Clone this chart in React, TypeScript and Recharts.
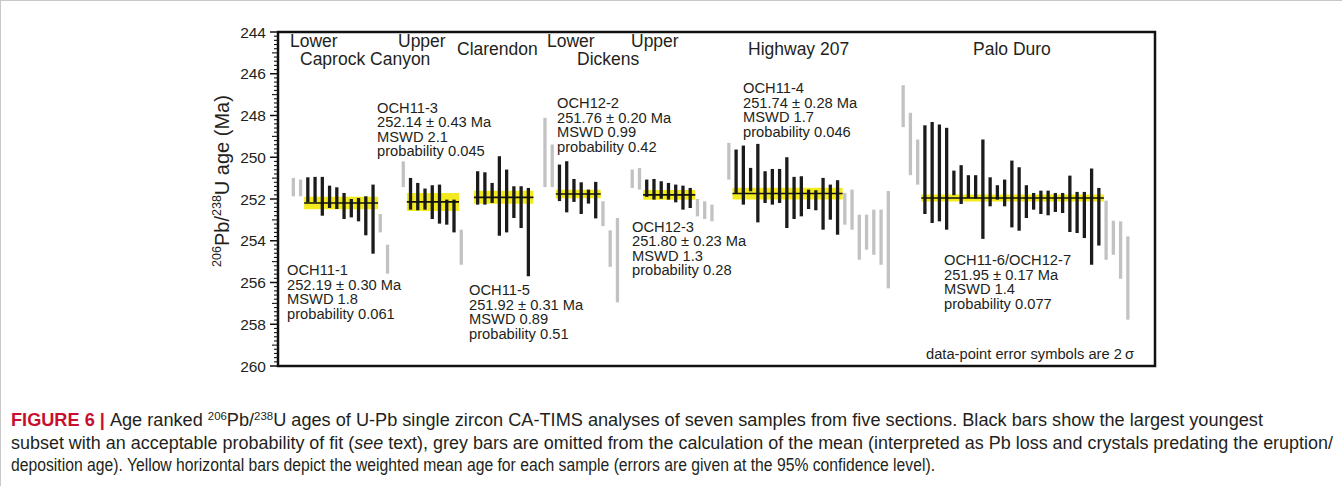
import React from "react";
import {
  ComposedChart, Bar, Cell, XAxis, YAxis, ReferenceArea, ReferenceLine,
} from "recharts";

const FONT = '"Liberation Sans", Arial, Helvetica, sans-serif';
const INK = "#231f20";
const BLACK_BAR = "#1b1b1b";
const GREY_BAR = "#c2c2c2";
const YELLOW = "#f3eb1f";

// 206Pb/238U ages as [young, old] ends of the 2 sigma bar (Ma), age ranked
const OCH11_1_GREY_A = [[250.99, 251.87], [251.07, 251.87]];
const OCH11_1_BLACK = [
  [250.96, 252.16], [250.94, 252.16], [250.94, 252.8], [251.36, 252.43], [251.44, 252.48],
  [251.71, 252.96], [252.0, 252.88], [251.95, 253.07], [251.87, 253.74], [251.31, 254.62],
];
const OCH11_1_GREY_B = [[252.72, 253.6], [254.19, 255.58]];

const OCH11_3_GREY_A = [[250.2, 251.43]];
const OCH11_3_BLACK = [
  [250.99, 252.51], [251.23, 252.54], [251.5, 252.51], [251.34, 252.96], [251.31, 253.18],
  [252.03, 253.23], [252.03, 253.6],
];
const OCH11_3_GREY_B = [[253.47, 255.15]];

const OCH11_5_BLACK = [
  [250.67, 252.27], [250.72, 252.27], [251.23, 252.19], [249.95, 253.76], [250.59, 253.6],
  [251.39, 252.91], [251.39, 253.39], [251.47, 255.7],
];

const OCH12_2_GREY_A = [[248.11, 251.43], [249.39, 251.43]];
const OCH12_2_BLACK = [
  [250.35, 252.1], [250.19, 252.64], [251.04, 252.14], [251.2, 252.72], [251.55, 252.22],
  [251.18, 252.93],
];
const OCH12_2_GREY_B = [[252.11, 253.3], [253.5, 255.25], [252.91, 256.95]];

const OCH12_3_GREY_A = [[250.59, 251.47], [250.51, 251.55]];
const OCH12_3_BLACK = [
  [251.07, 251.9], [251.04, 252.03], [251.15, 251.99], [251.23, 252.03], [251.31, 252.16],
  [251.36, 252.51], [251.47, 252.43],
];
const OCH12_3_GREY_B = [[252.0, 252.83], [252.11, 252.96], [252.27, 253.07]];

const OCH11_4_GREY_A = [[249.31, 251.07]];
const OCH11_4_BLACK = [
  [249.63, 251.71], [249.44, 252.27], [250.51, 251.63], [249.36, 253.12], [250.67, 252.19],
  [250.56, 252.27], [250.56, 252.19], [250.0, 253.39], [250.94, 252.96], [250.91, 252.83],
  [251.55, 252.48], [251.58, 252.54], [250.99, 253.47], [251.31, 252.99], [251.1, 253.71],
];
const OCH11_4_GREY_B = [
  [251.71, 253.23], [251.55, 253.47], [252.75, 254.91], [252.75, 254.43], [252.51, 254.67],
  [252.51, 255.15], [251.62, 256.28],
];

const OCH11_6_GREY_A = [[246.55, 248.56], [247.87, 250.86], [249.15, 251.31]];
const OCH11_6_BLACK = [
  [248.47, 252.72], [248.31, 253.15], [248.43, 253.07], [248.59, 253.47], [250.64, 251.82],
  [250.38, 252.24], [250.86, 251.95], [250.86, 251.98], [249.15, 253.91], [250.96, 252.35],
  [251.34, 252.03], [251.07, 252.35], [250.16, 253.36], [250.48, 253.52], [251.34, 252.91],
  [251.71, 252.51], [251.6, 252.72], [251.6, 252.78], [251.71, 252.62], [251.71, 252.67],
  [250.88, 253.58], [251.66, 253.63], [251.66, 253.87], [250.54, 255.15], [251.47, 254.23],
];
const OCH11_6_GREY_B = [[252.08, 254.91], [253.04, 254.67], [253.07, 255.82], [253.79, 257.78]];

const SAMPLE_NAMES = ["OCH11-1", "OCH11-3", "OCH11-5", "OCH12-2", "OCH12-3", "OCH11-4", "OCH11-6/OCH12-7"];
const SAMPLE_START = [2.11, 17.28, 27.54, 36.83, 48.87, 62.2, 86.25]; // rank slot of first analysis
const SAMPLE_MEAN = [252.19, 252.14, 251.92, 251.76, 251.8, 251.74, 251.95];
const SAMPLE_ERR = [0.3, 0.43, 0.31, 0.2, 0.23, 0.28, 0.17];
const SAMPLE_MSWD = ["1.8", "2.1", "0.89", "0.99", "1.3", "1.7", "1.4"];
const SAMPLE_PROB = ["0.061", "0.045", "0.51", "0.42", "0.28", "0.046", "0.077"];
const GREY_BEFORE = [OCH11_1_GREY_A, OCH11_3_GREY_A, [], OCH12_2_GREY_A, OCH12_3_GREY_A, OCH11_4_GREY_A, OCH11_6_GREY_A];
const BLACK = [OCH11_1_BLACK, OCH11_3_BLACK, OCH11_5_BLACK, OCH12_2_BLACK, OCH12_3_BLACK, OCH11_4_BLACK, OCH11_6_BLACK];
const GREY_AFTER = [OCH11_1_GREY_B, OCH11_3_GREY_B, [], OCH12_2_GREY_B, OCH12_3_GREY_B, OCH11_4_GREY_B, OCH11_6_GREY_B];

const SECTIONS = ["Lower", "Caprock Canyon", "Upper", "Clarendon", "Lower", "Dickens", "Upper", "Highway 207", "Palo Duro"];
const Y_MAJOR = [244, 246, 248, 250, 252, 254, 256, 258, 260];
const Y_MINOR_STEP = 0.2;
const X_DOMAIN = [0, 121];

// layout of the free text (pixels)
const SECTION_POS = [[290, 47], [300, 64.5], [398, 47], [457, 55], [547, 47], [577, 64.5], [631, 47], [748, 55], [973, 55]];
const NOTE_POS = [[287, 275], [377, 112.7], [469, 295], [557, 108], [632, 231.7], [743, 93.3], [944, 265]];

type Row = { x: number; range: [number, number]; grey: boolean };
type Band = { x1: number; x2: number; mean: number; err: number };

const rows: Row[] = [];
const bands: Band[] = [];
SAMPLE_NAMES.forEach((_, i) => {
  let slot = SAMPLE_START[i];
  const push = (r: number[], grey: boolean) => {
    rows.push({ x: slot, range: [r[1], r[0]], grey });
    slot += 1;
  };
  GREY_BEFORE[i].forEach((r) => push(r, true));
  const first = slot;
  BLACK[i].forEach((r) => push(r, false));
  const last = slot - 1;
  bands.push({ x1: first - 0.5, x2: last + 0.7, mean: SAMPLE_MEAN[i], err: SAMPLE_ERR[i] });
  GREY_AFTER[i].forEach((r) => push(r, true));
});

const yTicks: number[] = [];
for (let v = Y_MAJOR[0]; v <= Y_MAJOR[Y_MAJOR.length - 1] + 1e-9; v += Y_MINOR_STEP) {
  yTicks.push(Math.round(v * 10) / 10);
}

const AgeTick = (props: any) => {
  const { x, y, payload } = props;
  const v = payload.value as number;
  const whole = Math.abs(v - Math.round(v)) < 1e-6;
  const major = whole && Math.round(v) % 2 === 0;
  const len = major ? 8 : whole ? 6 : 4;
  return (
    <g>
      <line x1={x - len} x2={x} y1={y} y2={y} stroke="#111" strokeWidth={major ? 1.5 : 1.1} />
      {major && (
        <text x={x - 12} y={y} dy={5.5} textAnchor="end" fontSize={15.5} fontFamily={FONT} fill={INK}>
          {v}
        </text>
      )}
    </g>
  );
};

const App = () => {
  return (
    <div style={{ position: "fixed", left: 0, top: 0, width: 1342, height: 486, background: "#fff", overflow: "hidden" }}>
      <ComposedChart
        width={1342}
        height={486}
        data={rows}
        margin={{ top: 32, right: 187, bottom: 120, left: 218 }}
      >
        <XAxis type="number" dataKey="x" domain={X_DOMAIN} hide />
        <YAxis
          type="number"
          domain={[Y_MAJOR[0], Y_MAJOR[Y_MAJOR.length - 1]]}
          reversed
          ticks={yTicks}
          interval={0}
          tick={<AgeTick />}
          tickSize={0}
          tickMargin={0}
          tickLine={false}
          axisLine={false}
          width={60}
        />
        {bands.map((b, i) => (
          <ReferenceArea
            key={`band-${i}`}
            x1={b.x1}
            x2={b.x2}
            y1={b.mean - b.err}
            y2={b.mean + b.err}
            fill={YELLOW}
            fillOpacity={1}
            stroke="none"
          />
        ))}
        <Bar dataKey="range" barSize={3.3} isAnimationActive={false}>
          {rows.map((r, i) => (
            <Cell key={i} fill={r.grey ? GREY_BAR : BLACK_BAR} />
          ))}
        </Bar>
        {bands.map((b, i) => (
          <ReferenceLine
            key={`mean-${i}`}
            segment={[{ x: b.x1, y: b.mean }, { x: b.x2, y: b.mean }]}
            stroke="#111"
            strokeWidth={1.6}
          />
        ))}
        <ReferenceArea
          x1={X_DOMAIN[0]}
          x2={X_DOMAIN[1]}
          y1={Y_MAJOR[0]}
          y2={Y_MAJOR[Y_MAJOR.length - 1]}
          fill="none"
          fillOpacity={0}
          stroke="#111"
          strokeWidth={2.5}
        />
      </ComposedChart>

      <svg
        width={1342}
        height={486}
        style={{ position: "absolute", left: 0, top: 0, pointerEvents: "none" }}
        fontFamily={FONT}
      >
        <line x1={0.5} y1={0} x2={0.5} y2={486} stroke="#c8c8c8" />
        <line x1={0} y1={0.5} x2={1342} y2={0.5} stroke="#c8c8c8" />

        {/* y axis title */}
        <text transform="translate(229,181) rotate(-90)" textAnchor="middle" fontSize={20} fill={INK}>
          <tspan fontSize={12.5} dy={-8}>206</tspan>
          <tspan dy={8}>Pb/</tspan>
          <tspan fontSize={12.5} dy={-8}>238</tspan>
          <tspan dy={8}>U age (Ma)</tspan>
        </text>

        {SECTIONS.map((s, i) => (
          <text key={`sec-${i}`} x={SECTION_POS[i][0]} y={SECTION_POS[i][1]} fontSize={17.5} fill={INK}>
            {s}
          </text>
        ))}

        {SAMPLE_NAMES.map((name, i) => {
          const lines = [
            name,
            `${SAMPLE_MEAN[i].toFixed(2)} ± ${SAMPLE_ERR[i].toFixed(2)} Ma`,
            `MSWD ${SAMPLE_MSWD[i]}`,
            `probability ${SAMPLE_PROB[i]}`,
          ];
          return (
            <text key={`note-${i}`} x={NOTE_POS[i][0]} y={NOTE_POS[i][1]} fontSize={14.7} fill={INK}>
              {lines.map((l, j) => (
                <tspan key={j} x={NOTE_POS[i][0]} dy={j === 0 ? 0 : 14.5}>
                  {l}
                </tspan>
              ))}
            </text>
          );
        })}

        <text x={926} y={358.5} fontSize={14.7} fill={INK}>
          data-point error symbols are 2{"\u2009"}σ
        </text>

        {/* caption */}
        <g fontFamily={'"Liberation Sans Narrow", "Liberation Sans", Arial, sans-serif'} fontSize={17.5} fill={INK}>
          <text x={11} y={426} textLength={1252} lengthAdjust="spacingAndGlyphs">
            <tspan fill="#c8102e" fontWeight="bold">{"FIGURE 6 | "}</tspan>
            <tspan>{"Age ranked "}</tspan>
            <tspan fontSize={11} dy={-6.5}>206</tspan>
            <tspan dy={6.5}>{"Pb/"}</tspan>
            <tspan fontSize={11} dy={-6.5}>238</tspan>
            <tspan dy={6.5}>
              {"U ages of U-Pb single zircon CA-TIMS analyses of seven samples from five sections. Black bars show the largest youngest"}
            </tspan>
          </text>
          <text x={11} y={448.5} textLength={1322} lengthAdjust="spacingAndGlyphs">
            <tspan>{"subset with an acceptable probability of fit ("}</tspan>
            <tspan fontStyle="italic">see</tspan>
            <tspan>
              {" text), grey bars are omitted from the calculation of the mean (interpreted as Pb loss and crystals predating the eruption/"}
            </tspan>
          </text>
          <text x={11} y={471} textLength={924} lengthAdjust="spacingAndGlyphs">
            {"deposition age). Yellow horizontal bars depict the weighted mean age for each sample (errors are given at the 95% confidence level)."}
          </text>
        </g>
      </svg>
    </div>
  );
};

export default App;
